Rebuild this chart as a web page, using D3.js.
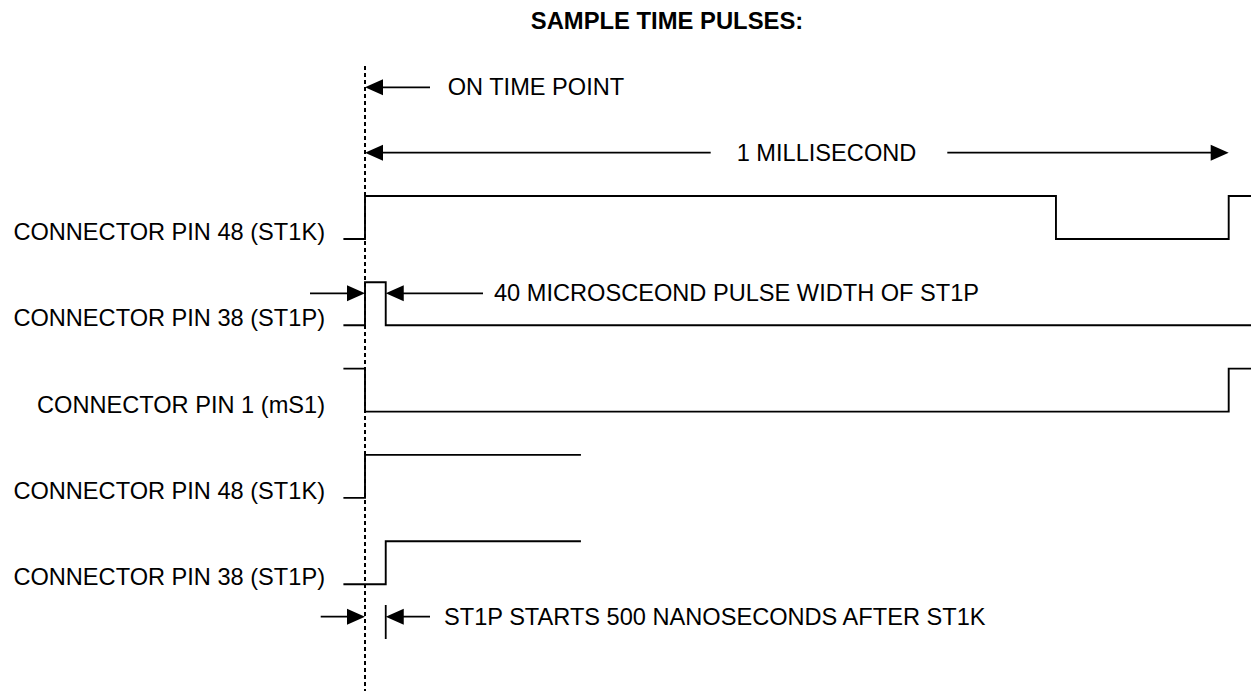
<!DOCTYPE html>
<html>
<head>
<meta charset="utf-8">
<script src="https://cdn.jsdelivr.net/npm/d3@7"></script>
<style>
  html, body { margin: 0; padding: 0; background: #fff; }
  svg { display: block; }
  text { font-family: "Liberation Sans", Arial, sans-serif; fill: #000; }
</style>
</head>
<body>
<svg id="chart" width="1251" height="691"></svg>
<script>
// ---- data ----
const chartTitle = "SAMPLE TIME PULSES:";
const signalLabels = [
  "CONNECTOR PIN 48 (ST1K)",
  "CONNECTOR PIN 38 (ST1P)",
  "CONNECTOR PIN 1 (mS1)",
  "CONNECTOR PIN 48 (ST1K)",
  "CONNECTOR PIN 38 (ST1P)"
];
// edge times (schematic microseconds, on-time point = 0, 1 ms = 1000)
const edgeTimes = [
  [-25, 0, 800, 1000, 1026],
  [-25, 0, 24, 1026],
  [-25, 0, 1000, 1026],
  [-25, 0, 250],
  [-25, 24, 250]
];
// logic level after each edge time (0 = low, 1 = high)
const edgeLevels = [
  [0, 1, 0, 1, 1],
  [0, 1, 0, 0],
  [1, 0, 1, 1],
  [0, 1, 1],
  [0, 1, 1]
];
const annotationTexts = [
  "ON TIME POINT",
  "1 MILLISECOND",
  "40 MICROSCEOND PULSE WIDTH OF ST1P",
  "ST1P STARTS 500 NANOSECONDS AFTER ST1K"
];
const onTime = 0, periodEnd = 1000, pulseEnd = 24;

// ---- scales ----
const svg = d3.select("#chart");
const x = d3.scaleLinear().domain([0, 1000]).range([365, 1228.7]);
const rowY = d3.scaleLinear().domain([0, 4]).range([239, 584.2]);
const levelY = d3.scaleLinear().domain([0, 1]).range([0, -43]);

const FS = 23.6;
const black = "#000";

// title
svg.append("text")
  .attr("x", 667).attr("y", 28.5)
  .attr("text-anchor", "middle")
  .attr("font-weight", "bold")
  .attr("font-size", FS + 0.2)
  .text(chartTitle);

// on-time dashed line
svg.append("line")
  .attr("x1", x(onTime)).attr("x2", x(onTime))
  .attr("y1", 66).attr("y2", 691)
  .attr("stroke", black).attr("stroke-width", 2)
  .attr("stroke-dasharray", "4,3");

// signals
const line = d3.line()
  .x(d => x(d[0]))
  .y(d => d[1])
  .curve(d3.curveStepAfter);

signalLabels.forEach((lab, i) => {
  const pts = edgeTimes[i].map((t, j) => [t, rowY(i) + levelY(edgeLevels[i][j])]);
  svg.append("path")
    .attr("d", line(pts))
    .attr("fill", "none")
    .attr("stroke", black)
    .attr("stroke-width", 1.9);
  svg.append("text")
    .attr("x", 325).attr("y", rowY(i) + 1)
    .attr("text-anchor", "end")
    .attr("font-size", FS)
    .text(lab);
});

// arrow helper: tip at (tx, y), pointing dir (+1 right, -1 left), shaft to sx
function arrow(tx, sx, y, dir) {
  svg.append("line")
    .attr("x1", sx).attr("x2", tx - dir * 10).attr("y1", y).attr("y2", y)
    .attr("stroke", black).attr("stroke-width", 1.8);
  const L = 18, H = 8;
  svg.append("path")
    .attr("d", `M${tx},${y} L${tx - dir * L},${y - H} L${tx - dir * L},${y + H} Z`)
    .attr("fill", black);
}
function label(txt, lx, ly) {
  svg.append("text").attr("x", lx).attr("y", ly).attr("font-size", FS).text(txt);
}

// ON TIME POINT
arrow(x(onTime), 430, 87.3, -1);
label(annotationTexts[0], 447.7, 95.3);

// 1 MILLISECOND
arrow(x(onTime), 710.7, 152.7, -1);
arrow(x(periodEnd), 947.3, 152.7, 1);
label(annotationTexts[1], 736.7, 161);

// 40 us pulse width
arrow(x(onTime), 310, 293.3, 1);
arrow(x(pulseEnd), 483, 293.3, -1);
label(annotationTexts[2], 494, 301);

// 500 ns delay
arrow(x(onTime), 320.7, 616.7, 1);
arrow(x(pulseEnd), 430, 616.7, -1);
svg.append("line")
  .attr("x1", x(pulseEnd)).attr("x2", x(pulseEnd))
  .attr("y1", 605).attr("y2", 639)
  .attr("stroke", black).attr("stroke-width", 1.8);
label(annotationTexts[3], 444, 624.5);
</script>
</body>
</html>
